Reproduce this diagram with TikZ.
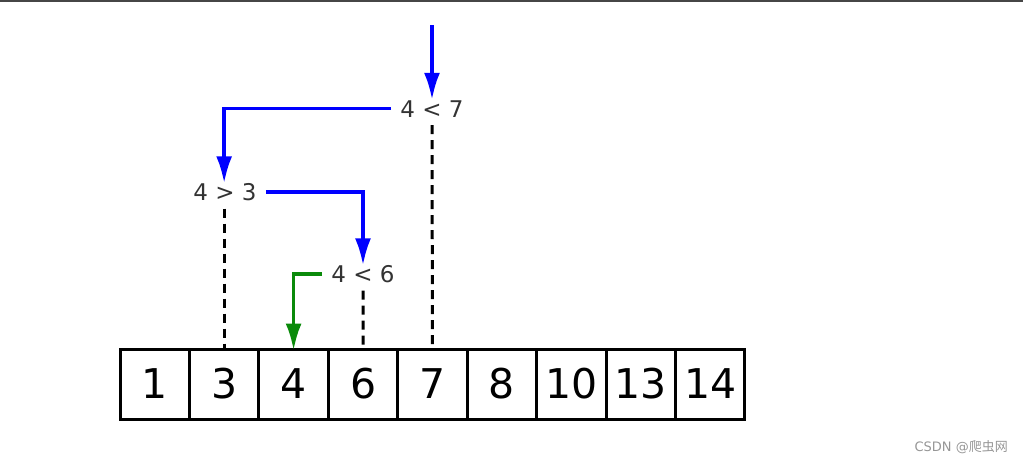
\documentclass[tikz,border=0pt]{standalone}
\usepackage{fontspec}
\setmainfont{DejaVu Sans}
\newfontfamily\cjk{Noto Sans CJK SC}
\usetikzlibrary{arrows.meta}
\definecolor{labelgray}{HTML}{333333}
\definecolor{darkgreen}{HTML}{0A8A0A}
\tikzset{
  cell/.style={draw=black, line width=3pt, minimum width=69.4pt, minimum height=70pt, inner sep=0pt, font=\fontsize{41}{41}\selectfont},
  cmp/.style={text=labelgray, font=\fontsize{23}{23}\selectfont, inner xsep=9pt, inner ysep=3pt, text height=17pt, text depth=0pt},
  flow/.style={line width=3.5pt, shorten >=-3pt, -{Latex[length=27pt,width=16pt]}},
  probe/.style={line width=3pt, dash pattern=on 9pt off 6pt}
}
\begin{document}
\begin{tikzpicture}[x=1pt,y=-1pt]
\useasboundingbox (0,0) rectangle (1023,464);
\draw[line width=2pt, draw={rgb,255:red,70;green,70;blue,70}] (0,1) -- (1023,1);
% cells
\foreach \v [count=\i] in {1,3,4,6,7,8,10,13,14} {
  \node[cell] (c\i) at ({120+69.44*(\i-0.5)},384) {\v};
}
% comparison labels
\node[cmp] (l7) at (432,108.5) {4 < 7};
\node[cmp] (l3) at (225,192) {4 > 3};
\node[cmp] (l6) at (363,274) {4 < 6};
\coordinate (start) at (432,25);
% flow arrows
\draw[flow, blue] (start) -- (l7.north);
\draw[flow, blue] (l7.west) -| (l3.north -| c2.north);
\draw[flow, blue] (l3.east) -| (l6.north);
\draw[flow, darkgreen] (l6.west) -| (c3.north);
% dashed probes
\draw[probe] (l7.south) ++(0,5) -- (c5.north);
\draw[probe] (l3.south -| c2.north) ++(0,5) -- (c2.north);
\draw[probe] (l6.south) ++(0,5) -- (c4.north);
% watermark
\node[anchor=east, text={rgb,255:red,150;green,150;blue,150}, font=\fontsize{13}{13}\selectfont, inner sep=0pt] (wm) at (1008,447) {CSDN @{\cjk 爬虫网}};
\end{tikzpicture}
\end{document}
